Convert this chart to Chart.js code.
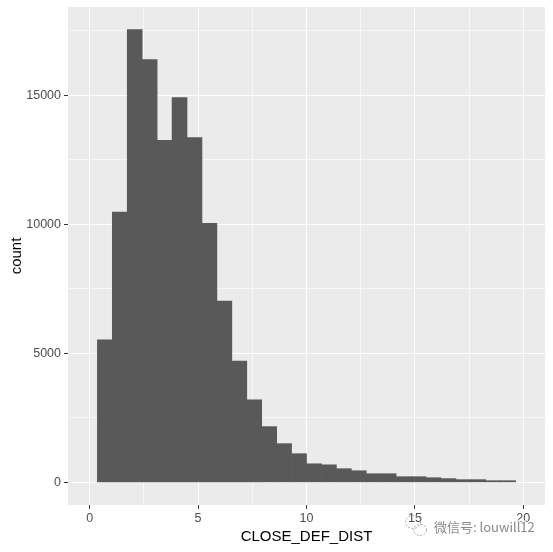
<!DOCTYPE html>
<html>
<head>
<meta charset="utf-8">
<script src="https://cdn.jsdelivr.net/npm/chart.js@4.4.1/dist/chart.umd.min.js"></script>
<style>
  html, body { margin: 0; padding: 0; background: #ffffff; }
  #wrap { width: 553px; height: 552px; position: relative; }
</style>
</head>
<body>
<div id="wrap"><canvas id="histChart" width="553" height="552"></canvas></div>
<script>
// histogram of CLOSE_DEF_DIST (ggplot geom_histogram, xlim 0..20)
const binStart = 0.355;
const binWidth = 0.689;
const counts = [5520, 10470, 17540, 16380, 13250, 14910, 13360, 10040, 7020, 4700,
                3200, 2160, 1500, 1110, 720, 680, 530, 450, 335, 335,
                220, 220, 180, 145, 105, 105, 65, 65];
const xTicks = [0, 2.5, 5, 7.5, 10, 12.5, 15, 17.5, 20];
const xMajor = [0, 5, 10, 15, 20];
const yTicks = [0, 2500, 5000, 7500, 10000, 12500, 15000, 17500];
const yMajor = [0, 5000, 10000, 15000];
const xLimits = [0, 20];

const points = counts.map((c, i) => ({ x: binStart + binWidth * (i + 0.5), y: c }));
const yMax = Math.max(...counts);
const xSpan = xLimits[1] - xLimits[0];

const isMajor = (list, c) => !!(c.tick && list.includes(c.tick.value));

const panelBg = {
    id: 'panelBg',
    beforeDraw(chart) {
        const { ctx, chartArea: a } = chart;
        ctx.save();
        ctx.fillStyle = '#EBEBEB';
        ctx.fillRect(a.left, a.top, a.right - a.left, a.bottom - a.top);
        ctx.restore();
    }
};

const watermark = {
    id: 'watermark',
    afterDraw(chart) {
        const ctx = chart.ctx;
        ctx.save();
        ctx.strokeStyle = '#aaaaaa';
        ctx.lineWidth = 1;
        ctx.setLineDash([2, 1.5]);
        ctx.beginPath();
        ctx.ellipse(413, 522, 7.5, 6.5, 0, 0, Math.PI * 2);
        ctx.stroke();
        ctx.beginPath();
        ctx.ellipse(420, 530, 6.5, 5.5, 0, 0, Math.PI * 2);
        ctx.stroke();
        ctx.setLineDash([]);
        ctx.font = '13px "Noto Sans CJK SC", sans-serif';
        ctx.textBaseline = 'alphabetic';
        ctx.lineWidth = 2.5;
        ctx.strokeStyle = 'rgba(255,255,255,0.9)';
        ctx.strokeText('微信号: louwill12', 434, 532);
        ctx.fillStyle = '#8a8a8a';
        ctx.fillText('微信号: louwill12', 434, 532);
        ctx.restore();
    }
};

new Chart(document.getElementById('histChart').getContext('2d'), {
    type: 'bar',
    data: {
        datasets: [{
            label: 'count',
            data: points,
            backgroundColor: '#595959',
            borderWidth: 0,
            barPercentage: 1,
            categoryPercentage: 1
        }]
    },
    options: {
        responsive: false,
        animation: false,
        layout: { padding: { top: 7, right: 8, left: 0, bottom: 0 } },
        plugins: { legend: { display: false }, tooltip: { enabled: false } },
        scales: {
            x: {
                type: 'linear',
                offset: false,
                min: xLimits[0] - 0.05 * xSpan,
                max: xLimits[1] + 0.05 * xSpan,
                afterBuildTicks: s => { s.ticks = xTicks.map(v => ({ value: v })); },
                afterFit: s => { s.height = 47; s.paddingLeft = 0; s.paddingRight = 0; },
                border: { display: false },
                grid: {
                    offset: false,
                    color: c => isMajor(xMajor, c) ? '#ffffff' : '#f8f8f8',
                    lineWidth: 1,
                    tickColor: c => isMajor(xMajor, c) ? '#333333' : 'rgba(0,0,0,0)',
                    tickWidth: 1,
                    tickLength: 4
                },
                ticks: {
                    autoSkip: false,
                    maxRotation: 0,
                    padding: 2,
                    color: '#4D4D4D',
                    font: { family: '"Liberation Sans", Arial, sans-serif', size: 12.5 },
                    callback: v => xMajor.includes(v) ? String(v) : ''
                },
                title: {
                    display: true,
                    text: 'CLOSE_DEF_DIST',
                    color: '#000000',
                    padding: { top: 0, bottom: 6.5 },
                    font: { family: '"Liberation Sans", Arial, sans-serif', size: 15 }
                }
            },
            y: {
                min: -0.05 * yMax,
                max: 1.05 * yMax,
                afterBuildTicks: s => { s.ticks = yTicks.map(v => ({ value: v })); },
                afterFit: s => { s.width = 68; s.paddingTop = 0; s.paddingBottom = 0; },
                border: { display: false },
                grid: {
                    color: c => isMajor(yMajor, c) ? '#ffffff' : '#f8f8f8',
                    lineWidth: 1,
                    tickColor: c => isMajor(yMajor, c) ? '#333333' : 'rgba(0,0,0,0)',
                    tickWidth: 1,
                    tickLength: 4
                },
                ticks: {
                    autoSkip: false,
                    padding: 3,
                    color: '#4D4D4D',
                    font: { family: '"Liberation Sans", Arial, sans-serif', size: 12.5 },
                    callback: v => yMajor.includes(v) ? String(v) : ''
                },
                title: {
                    display: true,
                    text: 'count',
                    color: '#000000',
                    padding: { top: 7.5, bottom: 0 },
                    font: { family: '"Liberation Sans", Arial, sans-serif', size: 15 }
                }
            }
        }
    },
    plugins: [panelBg, watermark]
});
</script>
</body>
</html>
